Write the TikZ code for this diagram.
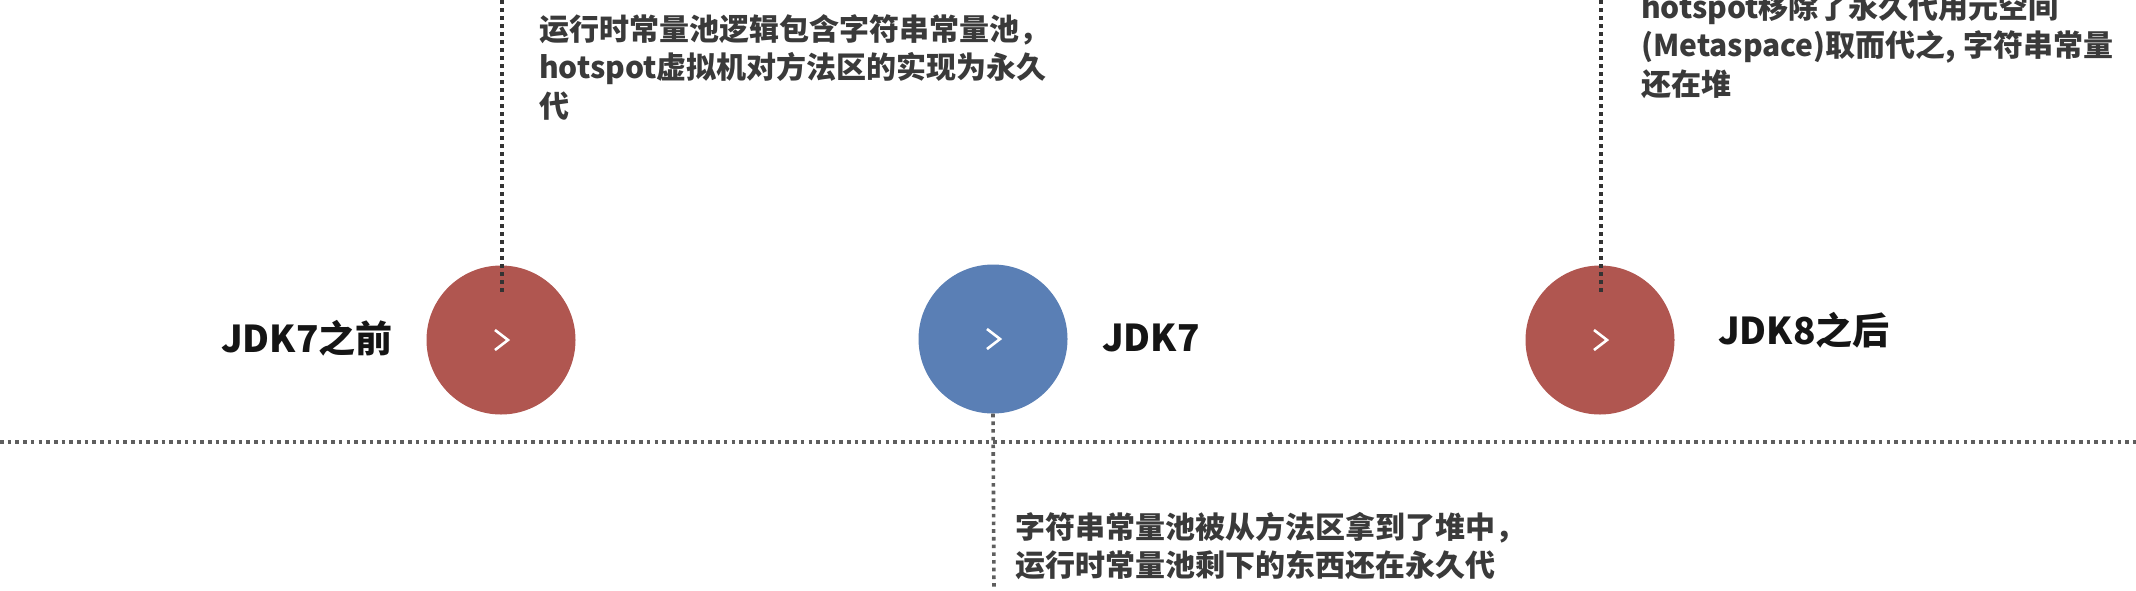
\documentclass[tikz,border=0pt]{standalone}
\usepackage{fontspec}
\newfontfamily\cjk{Noto Sans CJK SC}
\definecolor{redc}{HTML}{B05650}
\definecolor{bluec}{HTML}{5A7FB5}
\definecolor{desc}{HTML}{3A3A3A}
\definecolor{ttl}{HTML}{151515}
\definecolor{darkdot}{HTML}{333333}
\definecolor{lightdot}{HTML}{5E5E5E}
\tikzset{
  circ/.style={circle, minimum size=149pt, inner sep=0pt, draw=none},
  vdots/.style={draw=darkdot, line width=3.6pt, dash pattern=on 3.6pt off 4.4pt},
  gdots/.style={draw=lightdot, line width=3.6pt, dash pattern=on 3.6pt off 4.1pt},
  chev/.style={draw=white, line width=2.6pt, line join=miter},
  desctext/.style={inner sep=0pt, anchor=north west, align=left, text=desc, font=\cjk\bfseries\fontsize{30}{38.5}\selectfont},
  ttltext/.style={inner sep=0pt, anchor=west, text=ttl, font=\cjk\bfseries\fontsize{37}{44}\selectfont},
}
\begin{document}
\begin{tikzpicture}[x=1pt,y=-1pt]
\useasboundingbox (0,0) rectangle (2136,590);
\clip (0,0) rectangle (2136,590);
\fill[white] (0,0) rectangle (2136,590);

% circles
\node[circ, fill=redc] (c1) at (501,340) {};
\node[circ, fill=bluec] (c2) at (993,339) {};
\node[circ, fill=redc] (c3) at (1600,340) {};

% chevrons
\foreach \c in {c1,c2,c3}{
  \draw[chev] ([xshift=-6pt,yshift=10pt]\c.center) -- ([xshift=7pt,yshift=0pt]\c.center) -- ([xshift=-6pt,yshift=-10pt]\c.center);
}

% coordinates for connector ends
\coordinate (t1) at (502,0);
\coordinate (e1) at (502,292);
\coordinate (t3) at (1601,0);
\coordinate (e3) at (1601,292);
\coordinate (b2) at (994,590);
\coordinate (hl) at (0,442);
\coordinate (hr) at (2136,442);

% dotted lines
\draw[gdots] (hl) -- (hr);
\draw[gdots] (c2.south) -- (b2);
\draw[vdots] (t1) -- (e1);
\draw[vdots] (t3) -- (e3);

% titles
\node[ttltext] (l1) at (221,338) {JDK7之前};
\node[ttltext] (l2) at (1102,338) {JDK7};
\node[ttltext] (l3) at (1718,330) {JDK8之后};

% descriptions
\node[desctext] (d1) at (539,14) {运行时常量池逻辑包含字符串常量池，\\hotspot虚拟机对方法区的实现为永久\\代};
\node[desctext] (d3) at (1641,-8) {hotspot移除了永久代用元空间\\(Metaspace)取而代之, 字符串常量\\还在堆};
\node[desctext] (d2) at (1015,512) {字符串常量池被从方法区拿到了堆中，\\运行时常量池剩下的东西还在永久代};
\end{tikzpicture}
\end{document}
